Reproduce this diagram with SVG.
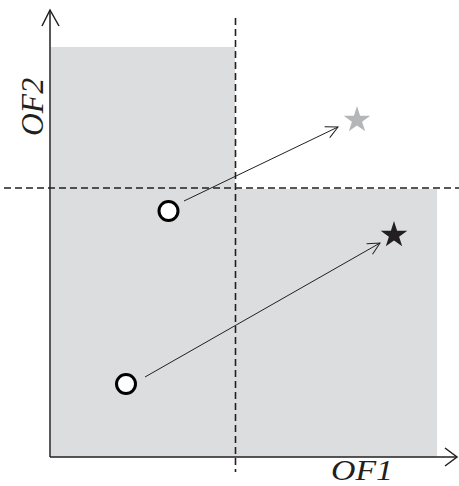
<svg xmlns="http://www.w3.org/2000/svg" width="459" height="486" viewBox="0 0 459 486">
<style>
.axis{stroke:#231f20;stroke-width:1.5;fill:none}
.dash{stroke:#231f20;stroke-width:1.6;stroke-dasharray:7,4;fill:none}
.conn{stroke:#231f20;stroke-width:1;fill:none}
.pt{fill:#fff;stroke:#000;stroke-width:3}
.lbl{font-family:"Liberation Serif",serif;font-style:italic;fill:#231f20}
</style>
<defs>
<marker id="open" markerWidth="16" markerHeight="16" refX="14" refY="8" orient="auto" markerUnits="userSpaceOnUse">
<path d="M2,2 L14,8 L2,14" fill="none" stroke="#231f20" stroke-width="1"/>
</marker>
</defs>
<g id="regions">
<rect x="51" y="47" width="184" height="410" fill="#dcdddf"/>
<rect x="235" y="189" width="202" height="268" fill="#dcdddf"/>
</g>
<g id="axes">
<path class="axis" d="M50,457 V10"/>
<path class="axis" d="M42,26 L50,10 L59,26"/>
<path class="axis" d="M50,457 H457"/>
<path class="axis" d="M445,448 L457,457 L445,466"/>
</g>
<g id="thresholds">
<path class="dash" d="M235.5,18 V472"/>
<path class="dash" d="M4,188 H459"/>
</g>
<g id="connectors">
<path class="conn" d="M184,201 L338,127" marker-end="url(#open)"/>
<path class="conn" d="M145,377 L380,243" marker-end="url(#open)"/>
</g>
<g id="p1"><circle class="pt" cx="168.5" cy="211" r="9.5"/></g>
<g id="p2"><circle class="pt" cx="126" cy="384" r="9.5"/></g>
<g id="s1"><polygon fill="#b5b6b8" points="357,106 360.1,115.7 370.3,115.7 362.1,121.7 365.2,131.3 357,125.4 348.8,131.3 351.9,121.7 343.7,115.7 353.9,115.7"/></g>
<g id="s2"><polygon fill="#231f20" points="394,221 397.1,230.7 407.3,230.7 399.1,236.7 402.2,246.3 394,240.4 385.8,246.3 388.9,236.7 380.7,230.7 390.9,230.7"/></g>
<g id="labels">
<text class="lbl" x="331" y="480" font-size="29" textLength="62" lengthAdjust="spacingAndGlyphs">OF1</text>
<text class="lbl" transform="translate(43,136) rotate(-90)" font-size="32" textLength="58" lengthAdjust="spacingAndGlyphs">OF2</text>
</g>
</svg>
